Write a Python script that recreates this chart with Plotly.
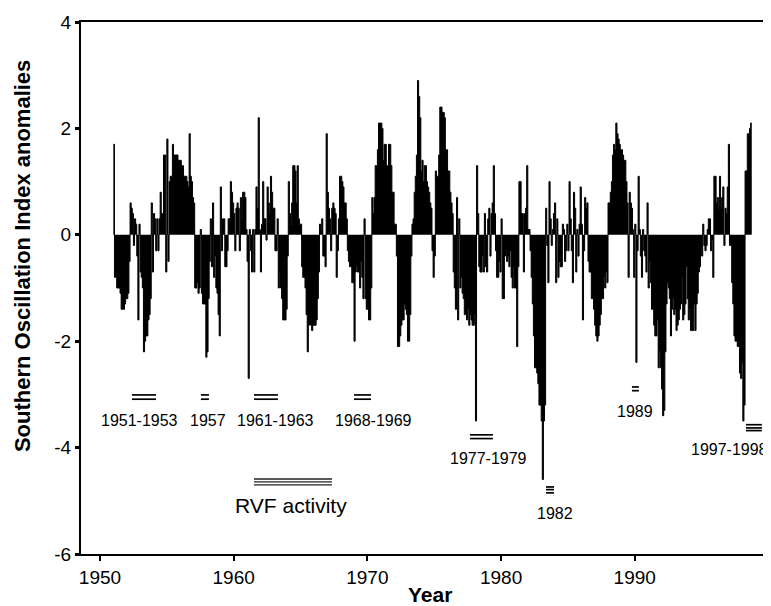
import plotly.graph_objects as go

# Monthly SOI anomalies, Jan 1951 - Sep 1998
soi_1950s = [
    1.7, -0.8, -0.8, -1.0, -1.0, -1.0, -1.1, -1.4, -1.4, -1.4, -1.3, -1.2,   # 1951
    -1.2, -1.1, -0.5, 0.6, 0.5, 0.4, -0.2, 0.3, 0.2, -0.4, -1.6, 0.2,        # 1952
    -0.7, -0.8, -1.0, -2.2, -2.0, -1.9, -1.9, -1.6, -1.5, -1.2, 0.6, -0.7,   # 1953
    0.4, 0.3, -0.3, 0.3, -0.3, 0.3, 0.8, 0.4, 0.4, 1.5, 1.5, -0.7,           # 1954
    1.8, -0.5, 1.0, 1.1, 1.1, 1.7, 1.5, 1.5, 1.5, 1.5, 1.4, 1.4,             # 1955
    1.4, 1.3, 1.3, 1.1, 1.1, 1.1, 1.0, 0.9, 1.9, 1.1, 1.0, 0.7,              # 1956
    0.6, -1.0, -1.0, -0.9, -1.1, -1.0, 0.1, -1.1, -1.3, -1.3, -1.3, -2.3,    # 1957
    -2.2, -1.2, -0.5, 0.3, -0.6, 0.6, -0.8, -0.4, -1.0, -1.1, -1.5, -1.9,    # 1958
    0.9, -0.3, 0.3, 0.3, -0.6, -0.6, -0.3, 0.3, 0.3, 1.0, 0.8, 0.6,          # 1959
]
soi_1960s = [
    0.4, -0.3, 0.5, 0.6, 0.5, -0.3, 0.7, 0.3, 0.8, 0.8, 0.7, 0.1,            # 1960
    -0.5, -2.7, 0.1, -0.3, -0.7, 0.1, -0.7, 0.1, 0.9, 0.5, 2.2, 0.1,         # 1961
    -0.7, 0.2, 1.0, 0.3, 0.3, -0.1, 0.9, 0.6, 0.4, 1.1, 0.8, 0.5,            # 1962
    0.5, -0.3, -0.3, 0.3, -1.0, -0.7, -1.0, -1.2, -1.6, -1.6, -1.6, -1.4,    # 1963
    -0.4, 1.0, 0.4, 0.2, 0.6, 1.3, 1.3, 1.2, 0.6, 1.3, 0.3, 0.2,             # 1964
    0.2, -0.6, -0.8, -0.8, -1.0, -1.5, -2.2, -1.7, -1.6, -1.7, -1.8, -1.7,   # 1965
    -1.7, -1.7, -1.6, -1.2, -0.7, 0.2, 0.1, 0.3, -0.4, -0.4, -0.6, 1.9,      # 1966
    0.8, 0.5, 0.3, -0.3, 0.5, 0.6, 0.5, 0.4, -0.8, -0.3, 0.3, 1.1,           # 1967
    1.1, 1.0, 0.9, 0.6, 0.6, 0.3, -0.3, -0.5, -0.6, -0.6, -0.9, -0.9,        # 1968
    -2.0, -0.7, -0.6, -0.7, -0.7, -1.0, -0.5, -0.8, -1.2, 0.3, -1.2, -1.4,   # 1969
]
soi_1970s = [
    -1.4, -1.6, -1.6, -1.0, 0.7, 0.4, 0.7, 1.3, 1.3, 1.6, 2.1, 2.1,          # 1970
    2.1, 2.0, 1.4, 1.7, 1.7, 1.3, 1.3, 1.7, 1.7, 1.3, 0.8, 0.8,              # 1971
    0.2, 0.2, -0.4, -2.1, -2.1, -1.9, -1.7, -1.6, -1.6, -1.3, -1.4, -1.5,    # 1972
    -2.0, -2.0, -1.5, -0.4, 0.2, 0.3, 0.8, 1.1, 1.5, 2.9, 2.6, 2.2,          # 1973
    1.2, 1.4, 1.0, 1.3, 1.3, 1.0, 0.9, 0.8, 0.6, 0.5, -0.3, -0.8,            # 1974
    -0.4, 1.2, 1.1, 1.1, 1.5, 2.4, 2.4, 2.3, 2.3, 2.2, 1.6, 1.6,             # 1975
    1.2, 1.2, 0.8, 0.6, 0.4, -0.7, -1.0, -1.4, 0.7, -1.6, 0.3, -1.0,         # 1976
    -0.8, -1.1, -1.2, -1.5, -1.5, -1.6, -1.4, -1.7, -1.5, -1.6, -1.7, -1.7,  # 1977
    -1.5, -3.5, 1.3, 0.4, -0.6, -0.7, -0.7, -0.4, -0.7, 0.4, -0.6, -0.7,     # 1978
    0.3, 0.5, -0.4, 0.4, 0.6, 1.3, 0.4, -0.3, -0.8, -0.8, -0.5, -0.7,        # 1979
]
soi_1980s = [
    0.3, -1.2, -1.2, -0.4, -0.3, -0.5, -0.4, -0.6, -0.3, -0.8, -1.0, -0.6,   # 1980
    -1.0, -1.0, -2.1, -0.6, 1.0, 1.0, 0.4, 0.4, -0.7, 0.4, 0.5, 1.3,         # 1981
    0.1, 0.1, -0.3, -0.8, -1.3, -1.9, -2.5, -2.5, -2.6, -2.8, -3.2, -3.2,    # 1982
    -3.5, -4.6, -3.5, -3.2, 0.5, -0.2, -0.9, 1.0, 0.3, -0.2, 0.1, 0.4,       # 1983
    0.6, -0.9, 0.3, -0.8, -0.5, -0.6, -0.6, 0.2, 0.1, -0.5, -0.3, 0.2,       # 1984
    -0.3, 1.0, 0.3, -0.3, -0.9, 0.8, 0.5, -0.7, 0.1, -0.4, 0.2, 0.9,         # 1985
    0.2, -1.6, -0.3, 0.7, 0.5, 0.6, -0.5, -0.7, -0.7, -1.2, -1.2, -1.4,      # 1986
    -1.7, -1.9, -2.0, -1.9, -1.7, -1.5, -1.2, -1.2, -0.8, -1.0, -0.7, -0.9,  # 1987
    0.6, 0.6, 0.8, 1.0, 1.5, 1.7, 1.6, 2.1, 1.9, 1.8, 1.7, 1.6,              # 1988
    1.6, 1.5, 1.4, 1.4, 1.0, 0.6, -0.8, 0.8, 0.6, 0.5, 0.1, -0.8,            # 1989
]
soi_1990s = [
    0.2, -2.4, -0.3, 1.1, 0.1, -0.4, -0.8, 0.1, -0.3, -0.4, -0.7, 0.6,       # 1990
    -1.0, -0.5, -0.9, -1.4, -1.4, -1.7, -1.9, -1.9, -1.6, -2.5, -2.2, -2.5,  # 1991
    -2.9, -3.4, -3.3, -2.2, -1.3, -0.9, -1.0, -1.2, -1.9, -1.4, -1.2, -1.5,  # 1992
    -1.4, -1.8, -1.7, -1.6, -1.4, -1.3, -0.8, -1.6, -1.5, -1.3, -0.6, -1.2,  # 1993
    -1.6, -1.4, -1.8, -1.8, -1.8, -1.3, -1.8, -1.3, -1.1, -0.7, -0.6, -0.3,  # 1994
    -0.4, 0.2, -0.2, -0.3, -0.2, 0.1, 0.3, 0.3, -0.3, -0.1, -0.8, 1.1,       # 1995
    1.1, 0.6, 0.7, 0.5, 1.1, 0.5, 0.7, 0.9, -0.2, 0.5, 0.4, 0.9,             # 1996
    1.7, -0.2, -0.2, -0.9, -1.3, -1.9, -2.0, -2.0, -2.1, -2.1, -2.6, -2.7,   # 1997
    -2.4, -3.5, -3.2, 1.2, 1.2, 1.9, 1.9, 2.0, 2.1,                          # 1998
]
start_year = 1951

# RVF activity periods (labels)
rvf_labels = ["1951-1953", "1957", "1961-1963", "1968-1969",
              "1977-1979", "1982", "1989", "1997-1998"]
legend_label = "RVF activity"
x_tick_vals = [1950, 1960, 1970, 1980, 1990]
y_tick_vals = [-6, -4, -2, 0, 2, 4]

soi = soi_1950s + soi_1960s + soi_1970s + soi_1980s + soi_1990s
n = len(soi)
xs = [start_year + m / 12 for m in range(n)] + [start_year + n / 12]
ys = soi + [soi[-1]]

FONT = "Liberation Sans, Arial, Helvetica, sans-serif"

fig = go.Figure()
fig.add_trace(go.Scatter(
    x=xs, y=ys, mode="lines", line_shape="hv",
    line=dict(color="black", width=1),
    fill="tozeroy", fillcolor="black",
    showlegend=False, hoverinfo="skip",
))

# layout positions for the period markers: (x0, x1, [y lines]) and label position
marker_layout = [
    (1952.39, 1954.19, [-3.01, -3.09], 1952.92, -3.49),
    (1957.55, 1958.15, [-3.01, -3.09], 1958.08, -3.49),
    (1961.52, 1963.31, [-3.01, -3.09], 1963.16, -3.49),
    (1969.00, 1970.27, [-3.01, -3.09], 1970.49, -3.49),
    (1977.67, 1979.39, [-3.76, -3.83], 1979.09, -4.21),
    (1983.36, 1983.96, [-4.74, -4.79, -4.85], 1984.03, -5.24),
    (1989.79, 1990.31, [-2.86, -2.93], 1990.00, -3.33),
    (1998.32, 1999.51, [-3.57, -3.63, -3.68], 1997.05, -4.04),
]
shapes = []
annotations = []
for label, (x0, x1, ylines, lx, ly) in zip(rvf_labels, marker_layout):
    for yl in ylines:
        shapes.append(dict(type="line", xref="x", yref="y", x0=x0, x1=x1, y0=yl, y1=yl,
                           line=dict(color="black", width=1.7)))
    annotations.append(dict(x=lx, y=ly, xref="x", yref="y", text=label, showarrow=False,
                            font=dict(family=FONT, size=16, color="black"),
                            xanchor="center", yanchor="middle"))

for yl in [-4.59, -4.645, -4.70]:
    shapes.append(dict(type="line", xref="x", yref="y", x0=1961.52, x1=1967.35, y0=yl, y1=yl,
                       line=dict(color="#222", width=1.3)))
annotations.append(dict(x=1964.29, y=-5.08, xref="x", yref="y", text=legend_label,
                        showarrow=False, font=dict(family=FONT, size=21, color="black"),
                        xanchor="center", yanchor="middle"))

annotations.append(dict(x=-0.0855, y=0.56, xref="paper", yref="paper",
                        text="<b>Southern Oscillation Index anomalies</b>", textangle=-90,
                        showarrow=False, font=dict(family=FONT, size=22, color="black"),
                        xanchor="center", yanchor="middle"))
annotations.append(dict(x=0.506, y=-0.076, xref="paper", yref="paper",
                        text="<b>Year</b>", showarrow=False,
                        font=dict(family=FONT, size=21, color="black"),
                        xanchor="center", yanchor="middle"))

# the page body has an 8px margin, so the figure is drawn 8px smaller each way
fig.update_layout(
    width=763, height=598,
    margin=dict(l=73, r=0, t=14, b=52, pad=0),
    paper_bgcolor="white", plot_bgcolor="white",
    font=dict(family=FONT, size=19, color="black"),
    shapes=shapes, annotations=annotations,
    showlegend=False,
    xaxis=dict(range=[1948.58, 2000.19], tickvals=x_tick_vals,
               ticktext=[str(v) for v in x_tick_vals],
               ticks="outside", ticklen=5, tickwidth=2, tickcolor="black",
               showline=True, linewidth=2, linecolor="black", mirror=True,
               showgrid=False, zeroline=False, tickfont=dict(size=19)),
    yaxis=dict(range=[-6, 4], tickvals=y_tick_vals,
               ticktext=[str(v) for v in y_tick_vals],
               ticks="outside", ticklen=4, tickwidth=3, tickcolor="black",
               showline=True, linewidth=2, linecolor="black", mirror=False,
               showgrid=False, zeroline=False, tickfont=dict(size=19)),
)

fig.write_html("out.html")
